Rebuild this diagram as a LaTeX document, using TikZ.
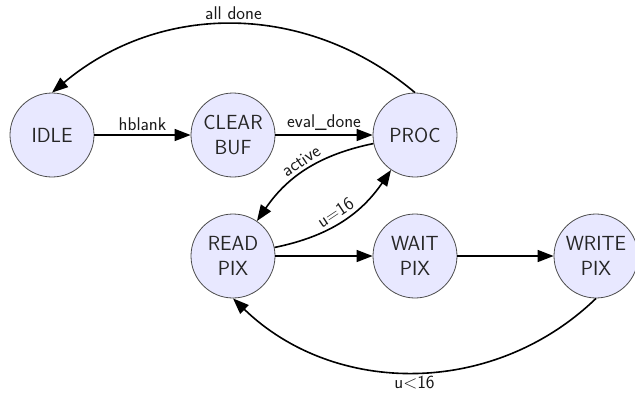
\documentclass[tikz,border=0pt]{standalone}
\usetikzlibrary{arrows.meta}
\begin{document}
\begin{tikzpicture}[x=1bp,y=1bp,
  state/.style={circle, draw=black!70, fill=blue!9, minimum size=84bp, inner sep=0pt,
    align=center, text=black!85, line width=0.8bp,
    font=\sffamily\fontsize{20.5}{25.5}\selectfont},
  trans/.style={line width=1.6bp, -{Triangle[length=16bp,width=12bp]}},
  lbl/.style={font=\sffamily\fontsize{18.5}{20}\selectfont, text=black!90, inner sep=3.5bp}]
\useasboundingbox (0,0) rectangle (635,-396);
\node[state] (idle)  at (52,-135)  {IDLE};
\node[state] (clear) at (233,-135) {CLEAR\\BUF};
\node[state] (proc)  at (415,-135) {PROC};
\node[state] (read)  at (233,-256) {READ\\PIX};
\node[state] (wait)  at (415,-256) {WAIT\\PIX};
\node[state] (write) at (596,-256) {WRITE\\PIX};
\draw[trans] (idle) -- node[lbl,above] {hblank} (clear);
\draw[trans] (clear) -- node[lbl,above] {eval\_done} (proc);
\draw[trans] (proc.north) to[out=140,in=40] node[lbl,above] {all done} (idle.north);
\draw[trans] (proc) to[bend right=22] node[lbl,above,sloped] {active} (read);
\draw[trans] (read) to[bend right=22] node[lbl,above,sloped] {u=16} (proc);
\draw[trans] (read) -- (wait);
\draw[trans] (wait) -- (write);
\draw[trans] (write.south) to[out=-136,in=-44] node[lbl,below] {u<16} (read.south);
\end{tikzpicture}
\end{document}
